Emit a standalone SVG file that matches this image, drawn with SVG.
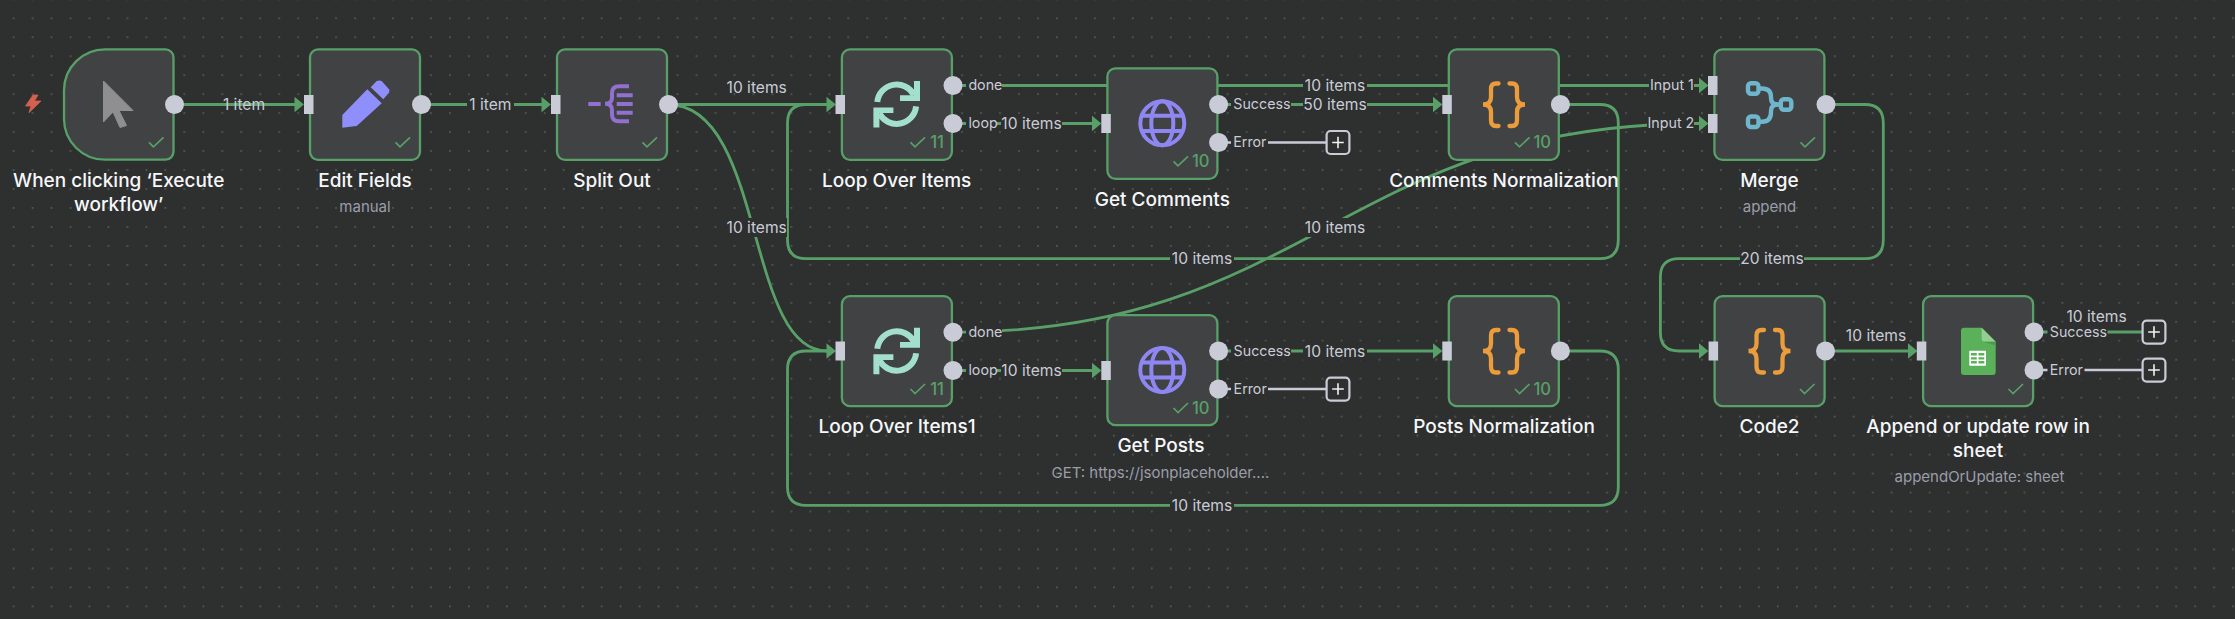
<svg xmlns="http://www.w3.org/2000/svg" xmlns:xlink="http://www.w3.org/1999/xlink" width="2235" height="619" viewBox="0 0 2235 619">
<style>
text{font-family:"Inter","Liberation Sans",sans-serif}
.e{fill:none;stroke:#58a068;stroke-width:2.8}
.g{fill:none;stroke:#c9ccd6;stroke-width:2.3}
.n{fill:#414244;stroke:#58a068;stroke-width:2.3}
.p{fill:#c9ccd6}
.b{fill:#2e2f2f}
.l{font-size:15.6px;fill:#c9ccd6;text-anchor:middle}
.s{font-size:14.25px;fill:#c9ccd6}
.t{font-size:19px;font-weight:500;fill:#f6f7fa;text-anchor:middle}
.u{font-size:15px;fill:#9a9ea8;text-anchor:middle}
.c{font-size:16.6px;font-weight:500;fill:#58a068;text-anchor:end}
.k{fill:none;stroke:#58a068;stroke-width:1.7}
.a{fill:#58a068}
.pb{fill:#2e2f2f;stroke:#c9ccd6;stroke-width:2.2}
.pl{fill:none;stroke:#f0f1f4;stroke-width:1.6}
</style>
<defs>
<pattern id="dots" width="18.97" height="18.97" patternUnits="userSpaceOnUse" x="12.7" y="17.3">
<circle cx="0.9" cy="0.9" r="0.85" fill="#616262"/>
</pattern>
<path id="arr" d="M0,-7.8 L9.4,0 L0,7.8 Z"/>
<path id="chk" d="M0,5 L4.5,9.5 L14.5,0"/>
<g id="loopicon" fill="#a3e0cb">
<path d="M-19.4,-2.2 A19.5,19.5 0 0 1 17.3,-9.2" fill="none" stroke="#a3e0cb" stroke-width="6"/>
<path d="M23.3,-23.2 V-3.2 H3.3 V-8.9 H17.3 V-23.2 Z"/>
<path d="M19.4,2.2 A19.5,19.5 0 0 1 -17.3,9.2" fill="none" stroke="#a3e0cb" stroke-width="6"/>
<path d="M-23.3,23.2 V3.2 H-3.3 V8.9 H-17.3 V23.2 Z"/>
</g>
<g id="globe" fill="none" stroke="#8f87f1" stroke-width="4">
<circle r="22"/>
<ellipse rx="11" ry="22"/>
<path d="M-20,-7.6 H20 M-20,7.6 H20"/>
</g>
<g id="braces" fill="none" stroke="#ec9c3a" stroke-width="4.3" stroke-linecap="round">
<path d="M-5.5,-21 H-8 Q-13,-21 -13,-15.5 V-7.5 Q-13,0 -21,0 Q-13,0 -13,7.5 V15.5 Q-13,21.5 -8,21.5 H-5.5"/>
<path d="M5.5,-21 H8 Q13,-21 13,-15.5 V-7.5 Q13,0 21,0 Q13,0 13,7.5 V15.5 Q13,21.5 8,21.5 H5.5"/>
</g>
</defs>
<rect width="2235" height="619" fill="#2e2f2f"/>
<rect width="2235" height="619" fill="url(#dots)"/>

<g id="connectors">
<path class="e" d="M174,104.5 H295"/>
<path class="e" d="M421,104.5 H542"/>
<path class="e" d="M668,104.5 H827"/>
<path class="e" d="M668,104.5 C765,104.5 745,351 827,351"/>
<path class="e" d="M953,85.5 H1699"/>
<path class="e" d="M953,123.5 H1093"/>
<path class="e" d="M1218,104.5 H1433"/>
<path class="g" d="M1218,142.5 H1326"/>
<path class="e" d="M1560,104.5 H1600 Q1618.3,104.5 1618.3,123 V240 Q1618.3,258.7 1600,258.7 H806 Q787.5,258.7 787.5,240 V123 Q787.5,104.5 806,104.5 H827"/>
<path class="e" d="M953,332.3 C1307,332.3 1345,123.5 1699,123.5"/>
<path class="e" d="M953,370.5 H1093"/>
<path class="e" d="M1218,351 H1433"/>
<path class="g" d="M1218,389 H1326"/>
<path class="e" d="M1560,351 H1600 Q1618.3,351 1618.3,369.5 V487 Q1618.3,505.3 1600,505.3 H806 Q787.5,505.3 787.5,487 V369.5 Q787.5,351 806,351 H827"/>
<path class="e" d="M1826,104.5 H1865 Q1883.3,104.5 1883.3,123 V240 Q1883.3,258.7 1865,258.7 H1679 Q1660.4,258.7 1660.4,277 V332.5 Q1660.4,351 1679,351 H1699"/>
<path class="e" d="M1825,351 H1908"/>
<path class="e" d="M2034,332 H2142"/>
<path class="g" d="M2034,370 H2142"/>
<g class="a">
<use xlink:href="#arr" href="#arr" x="294.5" y="104.5"/>
<use xlink:href="#arr" href="#arr" x="541.5" y="104.5"/>
<use xlink:href="#arr" href="#arr" x="826.5" y="104.5"/>
<use xlink:href="#arr" href="#arr" x="826.5" y="351"/>
<use xlink:href="#arr" href="#arr" x="1092" y="123.5"/>
<use xlink:href="#arr" href="#arr" x="1092" y="370.5"/>
<use xlink:href="#arr" href="#arr" x="1433" y="104.5"/>
<use xlink:href="#arr" href="#arr" x="1433" y="351"/>
<use xlink:href="#arr" href="#arr" x="1699" y="85.5"/>
<use xlink:href="#arr" href="#arr" x="1699" y="123.5"/>
<use xlink:href="#arr" href="#arr" x="1699" y="351"/>
<use xlink:href="#arr" href="#arr" x="1908" y="351"/>
</g>
<g id="edge-labels">
<text class="l" x="244" y="110">1 item</text>
<rect class="b" x="467" y="95" width="47" height="19"/><text class="l" x="490.4" y="110">1 item</text>
<text class="l" x="756.7" y="93.4">10 items</text>
<rect class="b" x="727" y="218" width="60" height="19"/><text class="l" x="756.7" y="232.6">10 items</text>
<rect class="b" x="1001" y="114" width="61" height="19"/><text class="l" x="1031.5" y="129">10 items</text>
<rect class="b" x="1303" y="76" width="64" height="19"/><text class="l" x="1335" y="91">10 items</text>
<rect class="b" x="1303" y="95" width="64" height="19"/><text class="l" x="1335" y="110">50 items</text>
<rect class="b" x="1303" y="218" width="64" height="19"/><text class="l" x="1335" y="232.6">10 items</text>
<rect class="b" x="1170" y="249" width="64" height="19"/><text class="l" x="1202" y="264.2">10 items</text>
<rect class="b" x="1740" y="249" width="64" height="19"/><text class="l" x="1772" y="264.2">20 items</text>
<rect class="b" x="1001" y="361" width="61" height="19"/><text class="l" x="1031.5" y="376">10 items</text>
<rect class="b" x="1303" y="341.5" width="64" height="19"/><text class="l" x="1335" y="356.5">10 items</text>
<rect class="b" x="1170" y="496" width="64" height="19"/><text class="l" x="1202" y="510.8">10 items</text>
<text class="l" x="1876" y="341.2">10 items</text>
<text class="l" x="2096.6" y="322.2">10 items</text>
</g>
</g>

<g id="node-trigger">
<path d="M33,95 L25.5,106 L31,106 L29,112.7 L41,101 L34.5,101 L38,95 Z" fill="#d4604f" stroke="#d4604f" stroke-width="0.8" stroke-linejoin="round"/>
<path class="n" d="M105,49.4 H165.5 A8,8 0 0 1 173.5,57.4 V151.7 A8,8 0 0 1 165.5,159.7 H105 A41,41 0 0 1 64,118.7 V90.4 A41,41 0 0 1 105,49.4 Z"/>
<path d="M103.5,81 L133,110.5 L119,110.5 L126.5,125.5 L120,127.5 L113,112 L103.5,122 Z" fill="#8f8f92" stroke="#8f8f92" stroke-width="1" stroke-linejoin="round"/>
<use xlink:href="#chk" href="#chk" class="k" x="149" y="137.3"/>
<circle class="p" cx="174.5" cy="104.5" r="9.5"/>
<text class="t" x="118.7" y="186.5">When clicking ‘Execute</text>
<text class="t" x="118.7" y="210.5">workflow’</text>
</g>

<g id="node-edit-fields">
<rect class="n" x="310" y="49.4" width="110" height="110.4" rx="8"/>
<path d="M370.7,87.3 L376.7,81 Q379.5,79.8 381.7,81 L389,89.3 Q389.8,91 389,92.7 L383.3,99.3 Z" fill="#8f8ffb"/>
<path d="M367.3,89.3 L381.7,103.3 L356.7,126 L342.3,127.7 L342.3,115 Z" fill="#8f8ffb"/>
<use xlink:href="#chk" href="#chk" class="k" x="395.5" y="137.3"/>
<rect class="p" x="304" y="95" width="9.5" height="19"/>
<circle class="p" cx="421.5" cy="104.5" r="9.5"/>
<text class="t" x="365" y="186.5">Edit Fields</text>
<text class="u" x="365" y="211.7">manual</text>
</g>

<g id="node-split-out">
<rect class="n" x="557" y="49.4" width="110" height="110.4" rx="8"/>
<path d="M588.3,104 H600.7 M616.7,95.3 H632.7 M616.7,104 H632.7 M616.7,112.7 H632.7" fill="none" stroke="#9270d0" stroke-width="4"/>
<path d="M629,86.3 H619 Q612,86.3 612,93 V98 Q612,103.8 605,103.8 Q612,103.8 612,110 V114.5 Q612,121.3 619,121.3 H629" fill="none" stroke="#9270d0" stroke-width="4"/>
<use xlink:href="#chk" href="#chk" class="k" x="642.5" y="137.3"/>
<rect class="p" x="551" y="95" width="9.5" height="19"/>
<circle class="p" cx="668.5" cy="104.5" r="9.5"/>
<text class="t" x="612" y="186.5">Split Out</text>
</g>

<g id="node-loop-over-items">
<rect class="n" x="841.9" y="49.4" width="110" height="110.4" rx="8"/>
<use xlink:href="#loopicon" href="#loopicon" x="896.7" y="104.2"/>
<use xlink:href="#chk" href="#chk" class="k" x="910.5" y="137.3"/>
<text class="c" x="944" y="148.3">11</text>
<rect class="p" x="835.5" y="95" width="9.5" height="19"/>
<circle class="p" cx="953" cy="85.5" r="9.5"/>
<circle class="p" cx="953" cy="123.5" r="9.5"/>
<rect class="b" x="966" y="76" width="36" height="19"/><text class="s" x="968.4" y="90.4">done</text>
<rect class="b" x="966" y="114" width="30.5" height="19"/><text class="s" x="968.4" y="128.4">loop</text>
<text class="t" x="896.7" y="186.5">Loop Over Items</text>
</g>

<g id="node-get-comments">
<rect class="n" x="1107.4" y="68.4" width="110" height="110.4" rx="8"/>
<use xlink:href="#globe" href="#globe" x="1162.3" y="123.3"/>
<use xlink:href="#chk" href="#chk" class="k" x="1173.5" y="156.3"/>
<text class="c" x="1209.5" y="167.3">10</text>
<rect class="p" x="1101.3" y="114" width="9.5" height="19"/>
<circle class="p" cx="1218.6" cy="104.5" r="9.5"/>
<circle class="p" cx="1218.6" cy="142.5" r="9.5"/>
<rect class="b" x="1231" y="95" width="60" height="19"/><text class="s" x="1233.3" y="109.4">Success</text>
<rect class="b" x="1231" y="133" width="37" height="19"/><text class="s" x="1233.3" y="147.4">Error</text>
<rect class="pb" x="1326.6" y="131" width="22.8" height="23" rx="4"/>
<path class="pl" d="M1332.2,142.5 H1343.8 M1338,136.7 V148.3"/>
<text class="t" x="1162.3" y="205.5">Get Comments</text>
</g>

<g id="node-comments-normalization">
<rect class="n" x="1448.8" y="49.4" width="110" height="110.4" rx="8"/>
<use xlink:href="#braces" href="#braces" x="1504" y="104.5"/>
<use xlink:href="#chk" href="#chk" class="k" x="1515" y="137.3"/>
<text class="c" x="1551" y="148.3">10</text>
<rect class="p" x="1442.3" y="95" width="9.5" height="19"/>
<circle class="p" cx="1560.4" cy="104.5" r="9.5"/>
<text class="t" x="1504" y="186.5">Comments Normalization</text>
</g>

<g id="node-merge">
<rect class="n" x="1714.4" y="49.4" width="110" height="110.4" rx="8"/>
<g fill="none" stroke="#6fb5cb" stroke-width="4.4">
<rect x="1748" y="83.2" width="10.5" height="10.5" rx="3"/>
<rect x="1748" y="116.5" width="10.5" height="10.5" rx="3"/>
<rect x="1780.8" y="99.2" width="10.5" height="10.5" rx="3"/>
<path d="M1758.5,88.5 H1762 Q1771,88.5 1771,97 V98 Q1771,104.5 1778,104.5 H1780.8"/>
<path d="M1758.5,121.7 H1762 Q1771,121.7 1771,112 V111 Q1771,104.5 1778,104.5"/>
</g>
<use xlink:href="#chk" href="#chk" class="k" x="1800.5" y="137.3"/>
<rect class="p" x="1708" y="76" width="9.5" height="19"/>
<rect class="p" x="1708" y="114" width="9.5" height="19"/>
<circle class="p" cx="1826" cy="104.5" r="9.5"/>
<rect class="b" x="1649" y="76" width="45" height="19"/><text class="s" x="1650" y="90.2">Input 1</text>
<rect class="b" x="1647" y="114" width="47" height="19"/><text class="s" x="1647.5" y="128.2">Input 2</text>
<text class="t" x="1769.5" y="186.5">Merge</text>
<text class="u" x="1769.5" y="211.7">append</text>
</g>

<g id="node-loop-over-items1">
<rect class="n" x="841.9" y="296.1" width="110" height="110" rx="8"/>
<use xlink:href="#loopicon" href="#loopicon" x="896.7" y="351"/>
<use xlink:href="#chk" href="#chk" class="k" x="910.5" y="384"/>
<text class="c" x="944" y="395">11</text>
<rect class="p" x="835.5" y="341.5" width="9.5" height="19"/>
<circle class="p" cx="953" cy="332.3" r="9.5"/>
<circle class="p" cx="953" cy="370.5" r="9.5"/>
<rect class="b" x="966" y="323" width="36" height="19"/><text class="s" x="968.4" y="337.2">done</text>
<rect class="b" x="966" y="361" width="30.5" height="19"/><text class="s" x="968.4" y="375.4">loop</text>
<text class="t" x="897" y="433.3">Loop Over Items1</text>
</g>

<g id="node-get-posts">
<rect class="n" x="1107.4" y="315.1" width="110" height="110" rx="8"/>
<use xlink:href="#globe" href="#globe" x="1162.3" y="370"/>
<use xlink:href="#chk" href="#chk" class="k" x="1173.5" y="403"/>
<text class="c" x="1209.5" y="414">10</text>
<rect class="p" x="1101.3" y="361" width="9.5" height="19"/>
<circle class="p" cx="1218.6" cy="351" r="9.5"/>
<circle class="p" cx="1218.6" cy="389" r="9.5"/>
<rect class="b" x="1231" y="341.5" width="60" height="19"/><text class="s" x="1233.6" y="356">Success</text>
<rect class="b" x="1231" y="379.5" width="37" height="19"/><text class="s" x="1233.6" y="394">Error</text>
<rect class="pb" x="1326.6" y="377.6" width="22.8" height="23" rx="4"/>
<path class="pl" d="M1332.2,389 H1343.8 M1338,383.2 V394.8"/>
<text class="t" x="1161" y="452">Get Posts</text>
<text class="u" x="1160.4" y="477.7">GET: https://jsonplaceholder....</text>
</g>

<g id="node-posts-normalization">
<rect class="n" x="1448.8" y="296.1" width="110" height="110" rx="8"/>
<use xlink:href="#braces" href="#braces" x="1504" y="351"/>
<use xlink:href="#chk" href="#chk" class="k" x="1515" y="384"/>
<text class="c" x="1551" y="395">10</text>
<rect class="p" x="1442.3" y="341.5" width="9.5" height="19"/>
<circle class="p" cx="1560.4" cy="351" r="9.5"/>
<text class="t" x="1504" y="433.3">Posts Normalization</text>
</g>

<g id="node-code2">
<rect class="n" x="1714.6" y="296.1" width="110" height="110" rx="8"/>
<use xlink:href="#braces" href="#braces" x="1769.5" y="351"/>
<use xlink:href="#chk" href="#chk" class="k" x="1800" y="384"/>
<rect class="p" x="1708.6" y="341.5" width="9.5" height="19"/>
<circle class="p" cx="1825.5" cy="351" r="9.5"/>
<text class="t" x="1769.5" y="433.3">Code2</text>
</g>

<g id="node-append-sheet">
<rect class="n" x="1923.1" y="296.1" width="110" height="110" rx="8"/>
<path d="M1964,327.7 H1981.7 L1995.7,341.7 V372 Q1995.7,375 1992.7,375 H1964 Q1961,375 1961,372 V330.7 Q1961,327.7 1964,327.7 Z" fill="#5bb05a"/>
<path d="M1981.7,327.7 L1995.7,341.7 H1984.7 Q1981.7,341.7 1981.7,338.7 Z" fill="#94cf90"/>
<path d="M1983,341.7 L1995.7,345.5 V341.7 Z" fill="#4c9a4e"/>
<rect x="1969.3" y="350.7" width="16.7" height="15" fill="#ffffff" rx="0.6"/>
<path d="M1971,353 H1976.8 V355.6 H1971 Z M1978.5,353 H1984.3 V355.6 H1978.5 Z M1971,357.2 H1976.8 V359.4 H1971 Z M1978.5,357.2 H1984.3 V359.4 H1978.5 Z M1971,361 H1976.8 V363.5 H1971 Z M1978.5,361 H1984.3 V363.5 H1978.5 Z" fill="#5bb05a"/>
<use xlink:href="#chk" href="#chk" class="k" x="2008.5" y="384"/>
<rect class="p" x="1916.8" y="341.5" width="9.5" height="19"/>
<circle class="p" cx="2034" cy="332" r="9.5"/>
<circle class="p" cx="2034" cy="370" r="9.5"/>
<rect class="b" x="2047.5" y="322.5" width="60" height="19"/><text class="s" x="2049.8" y="337">Success</text>
<rect class="b" x="2047.5" y="360.5" width="37" height="19"/><text class="s" x="2049.8" y="375">Error</text>
<rect class="pb" x="2142.6" y="320.6" width="22.8" height="23" rx="4"/>
<path class="pl" d="M2148.2,332 H2159.8 M2154,326.2 V337.8"/>
<rect class="pb" x="2142.6" y="358.6" width="22.8" height="23" rx="4"/>
<path class="pl" d="M2148.2,370 H2159.8 M2154,364.2 V375.8"/>
<text class="t" x="1978" y="433.3">Append or update row in</text>
<text class="t" x="1978" y="456.7">sheet</text>
<text class="u" x="1979.5" y="481.7">appendOrUpdate: sheet</text>
</g>
</svg>
